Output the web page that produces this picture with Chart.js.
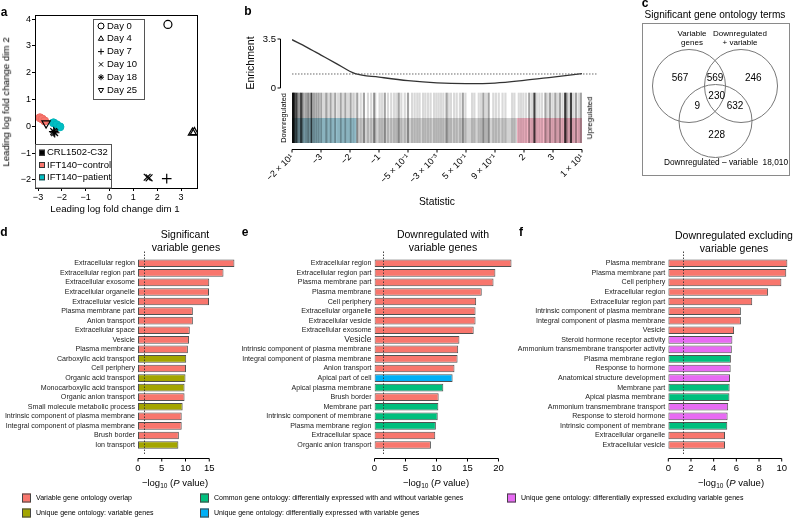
<!DOCTYPE html>
<html>
<head>
<meta charset="utf-8">
<script src="https://cdn.jsdelivr.net/npm/chart.js@4.4.1/dist/chart.umd.min.js"></script>
<style>
body { margin: 0; background: #fff; }
#fig { position: relative; width: 800px; height: 519px; overflow: hidden; background: #fff;
       font-family: 'Liberation Sans', Arial, sans-serif; color: #000; }
#fig canvas { position: absolute; }
.t { position: absolute; white-space: nowrap; line-height: 1; transform: translate(-50%, -50%); }
.r { transform: translate(-50%, -50%) rotate(-90deg); }
.L { font-weight: bold; font-size: 12px; }
.ttl { font-size: 10.5px; }
.ax { font-size: 9.5px; }
.ax sub { font-size: 6.5px; vertical-align: -2px; line-height: 0; }
.lg { position: absolute; font-size: 7px; white-space: nowrap; line-height: 1; transform: translateY(-50%); }
.lg span { display: inline-block; width: 7px; height: 7px; border: 1px solid #444; vertical-align: middle; margin-right: 5px; }
</style>
</head>
<body>
<div id="fig">
  <canvas id="ca" width="200" height="215" style="left:0;top:0"></canvas>
  <canvas id="cb" width="405" height="215" style="left:195px;top:0"></canvas>
  <canvas id="cc" width="148" height="153" style="left:642px;top:23px"></canvas>
  <canvas id="cd" width="246" height="270" style="left:0;top:225px"></canvas>
  <canvas id="ce" width="280" height="270" style="left:240px;top:225px"></canvas>
  <canvas id="cf" width="285" height="270" style="left:515px;top:225px"></canvas>

  <div class="t L" style="left:4px;top:12px">a</div>
  <div class="t L" style="left:248px;top:11px">b</div>
  <div class="t L" style="left:645px;top:3px">c</div>
  <div class="t L" style="left:4px;top:232px">d</div>
  <div class="t L" style="left:245px;top:232px">e</div>
  <div class="t L" style="left:521px;top:232px">f</div>

  <div class="t" style="left:115px;top:209px;font-size:9.7px">Leading log fold change dim 1</div>
  <div class="t r" style="left:6px;top:102px;font-size:9.7px">Leading log fold change dim 2</div>

  <div class="t r" style="left:250px;top:63px;font-size:10.5px">Enrichment</div>
  <div class="t" style="left:437px;top:202px;font-size:10.3px">Statistic</div>
  <div class="t r" style="left:283.5px;top:118px;font-size:7.4px">Downregulated</div>
  <div class="t r" style="left:590px;top:118px;font-size:7.8px">Upregulated</div>

  <div class="t" style="left:715px;top:15px;font-size:10.1px">Significant gene ontology terms</div>

  <div class="t ttl" style="left:185px;top:234px">Significant</div>
  <div class="t ttl" style="left:186px;top:247px">variable genes</div>
  <div class="t ttl" style="left:443px;top:234px">Downregulated with</div>
  <div class="t ttl" style="left:443px;top:247px">variable genes</div>
  <div class="t ttl" style="left:734px;top:235px">Downregulated excluding</div>
  <div class="t ttl" style="left:734px;top:248px">variable genes</div>

  <div class="t ax" style="left:175px;top:483px">&minus;log<sub>10</sub> (<i>P</i> value)</div>
  <div class="t ax" style="left:436px;top:483px">&minus;log<sub>10</sub> (<i>P</i> value)</div>
  <div class="t ax" style="left:731px;top:483px">&minus;log<sub>10</sub> (<i>P</i> value)</div>
</div>

<script>
// ---- a: MDS plot ----
var dayNames = ['Day 0', 'Day 4', 'Day 7', 'Day 10', 'Day 18', 'Day 25'];
var dayStyles = ['circle', 'triangle', 'cross', 'crossRot', 'star', 'triangle'];
var dayRotation = [0, 0, 0, 0, 0, 180];
var crlDay = [0, 1, 1, 2, 3, 3, 4, 4, 5];   // index in dayNames
var crlX = [2.45, 3.48, 3.56, 2.4, 1.58, 1.66, -2.34, -2.3, -2.66];
var crlY = [3.8, -0.24, -0.22, -1.95, -1.9, -1.92, -0.2, -0.24, 0.11];
var controlX = [-2.92, -2.82, -2.72];
var controlY = [0.32, 0.27, 0.2];
var patientX = [-2.35, -2.22, -2.08];
var patientY = [0.13, 0.06, -0.02];
var lineNames = ['CRL1502-C32', 'IFT140\u2212control', 'IFT140\u2212patient'];
var lineColors = ['#000000', '#F8766D', '#00BFC4'];

// ---- b: barcode plot ----
var statLabels = ['\u22122 \u00d7 10\u00b9', '\u22123', '\u22122', '\u22121', '\u22125 \u00d7 10\u207b\u00b9',
  '\u22123 \u00d7 10\u207b\u00b3', '5 \u00d7 10\u207b\u00b9', '9 \u00d7 10\u207b\u00b9', '2', '3', '1 \u00d7 10\u00b9'];
var enrichX = [0, 5, 10, 15, 21.8, 30, 40, 50, 60, 70, 80, 90, 100];
var enrichY = [3.45, 2.92, 2.35, 1.78, 1.02, 0.78, 0.52, 0.36, 0.31, 0.35, 0.54, 0.78, 1.02];
var enrichRef = 1;
var downRange = [0, 22.2];
var upRange = [77.6, 100];
var barcodeDark = [0, 0.3, 0.7, 1.5, 3.2, 6.7, 83.6, 94.2, 96.2];
var barcodeMid = [0.9, 2.1, 2.7, 3.8, 4.6, 5.3, 5.8, 7.6, 8.4, 9.2, 10.1, 11.8, 13.3, 14.9, 16.8, 18.4,
  20.2, 22.5, 24.8, 28.3, 32.0, 36.8, 40.0, 53.3, 58.9, 66.0, 67.8, 81.8, 87.4, 89.0, 90.8, 92.4, 94.7, 97.9, 99.6];
var barcodeLight = [11.0, 12.4, 14.1, 15.9, 17.6, 19.3, 21.0, 21.6, 23.7, 26.2, 27.3, 28.7, 30.2, 31.0, 33.1,
  34.2, 35.2, 36.0, 37.7, 38.9, 41.4, 42.3, 43.2, 44.0, 45.2, 46.0, 46.9, 47.8, 49.0, 49.8, 50.6, 51.4, 52.2,
  54.0, 54.8, 55.9, 56.8, 57.9, 59.8, 62.1, 62.9, 64.4, 65.2, 66.9, 69.4, 70.3, 71.3, 72.6, 73.6, 75.9, 76.7,
  78.2, 79.0, 79.8, 80.7, 82.8, 84.4, 85.3, 86.2, 88.2, 89.9, 91.6, 93.3, 95.4, 97.0, 98.8];

// ---- c: Venn ----
var vennCircleX = [47, 99, 73.5];
var vennCircleY = [63, 63, 98];
var vennCounts = [567, 569, 246, 230, 9, 632, 228];
var vennCountX = [38, 73, 111.3, 74.7, 55.3, 93, 74.7];
var vennCountY = [55.3, 55.3, 55.3, 73.7, 83, 83, 112];
var vennOutside = '18,010';

// ---- d/e/f: GO terms ----
var groupNames = {
  o: 'Variable gene ontology overlap',
  u: 'Unique gene ontology: variable genes',
  c: 'Common gene ontology: differentially expressed with and without variable genes',
  w: 'Unique gene ontology: differentially expressed with variable genes',
  x: 'Unique gene ontology: differentially expressed excluding variable genes'
};
var groupColors = { o: '#F8766D', u: '#A3A500', c: '#00BF7D', w: '#00B0F6', x: '#E76BF3' };
var cutoff = 1.3;

var dLabels = ['Extracellular region', 'Extracellular region part', 'Extracellular exosome', 'Extracellular organelle',
  'Extracellular vesicle', 'Plasma membrane part', 'Anion transport', 'Extracellular space', 'Vesicle',
  'Plasma membrane', 'Carboxylic acid transport', 'Cell periphery', 'Organic acid transport',
  'Monocarboxylic acid transport', 'Organic anion transport', 'Small molecule metabolic process',
  'Intrinsic component of plasma membrane', 'Integral component of plasma membrane', 'Brush border', 'Ion transport'];
var dValues = [20.3, 18.0, 15.0, 14.95, 14.95, 11.55, 11.55, 10.9, 10.75, 10.5, 10.15, 10.1, 10.0, 9.8, 9.8, 9.4, 9.2, 9.2, 8.6, 8.5];
var dGroups = ['o', 'o', 'o', 'o', 'o', 'o', 'o', 'o', 'o', 'o', 'u', 'o', 'u', 'u', 'o', 'u', 'o', 'o', 'o', 'u'];

var eLabels = ['Extracellular region', 'Extracellular region part', 'Plasma membrane part', 'Plasma membrane',
  'Cell periphery', 'Extracellular organelle', 'Extracellular vesicle', 'Extracellular exosome', 'Vesicle',
  'Intrinsic component of plasma membrane', 'Integral component of plasma membrane', 'Anion transport',
  'Apical part of cell', 'Apical plasma membrane', 'Brush border', 'Membrane part',
  'Intrinsic component of membrane', 'Plasma membrane region', 'Extracellular space', 'Organic anion transport'];
var eValues = [22.1, 19.5, 19.2, 17.3, 16.4, 16.3, 16.3, 16.0, 13.7, 13.5, 13.4, 12.9, 12.6, 11.1, 10.35, 10.3, 10.2, 9.9, 9.8, 9.1];
var eGroups = ['o', 'o', 'o', 'o', 'o', 'o', 'o', 'o', 'o', 'o', 'o', 'o', 'w', 'c', 'o', 'c', 'c', 'c', 'o', 'o'];

var fLabels = ['Plasma membrane', 'Plasma membrane part', 'Cell periphery', 'Extracellular region',
  'Extracellular region part', 'Intrinsic component of plasma membrane', 'Integral component of plasma membrane',
  'Vesicle', 'Steroid hormone receptor activity', 'Ammonium transmembrane transporter activity',
  'Plasma membrane region', 'Response to hormone', 'Anatomical structure development', 'Membrane part',
  'Apical plasma membrane', 'Ammonium transmembrane transport', 'Response to steroid hormone',
  'Intrinsic component of membrane', 'Extracellular organelle', 'Extracellular vesicle'];
var fValues = [10.5, 10.4, 9.97, 8.8, 7.4, 6.4, 6.4, 5.8, 5.65, 5.6, 5.52, 5.5, 5.44, 5.41, 5.39, 5.28, 5.23, 5.2, 5.0, 5.0];
var fGroups = ['o', 'o', 'o', 'o', 'o', 'o', 'o', 'o', 'x', 'x', 'c', 'x', 'x', 'c', 'c', 'x', 'x', 'c', 'o', 'o'];

var legendRows = [['o', 'c', 'x'], ['u', 'w']];

var FONT = "'Liberation Sans', Arial, sans-serif";
Chart.defaults.font.family = FONT;
Chart.defaults.color = '#000';
Chart.defaults.animation = false;
Chart.defaults.responsive = false;
Chart.defaults.events = [];
Chart.defaults.layout.autoPadding = false;
Chart.defaults.plugins.legend.display = false;
Chart.defaults.plugins.tooltip.enabled = false;

function minus(v) { return v < 0 ? '\u2212' + (-v) : String(v); }

function marker(ctx, style, rot, x, y, r) {
  ctx.fillStyle = 'rgba(0,0,0,0)';
  ctx.strokeStyle = '#000';
  ctx.lineWidth = 1;
  Chart.helpers.drawPoint(ctx, { pointStyle: style, rotation: rot, radius: r, borderWidth: 1 }, x, y);
}

// cadre + légendes du panneau a
var aLegend = {
  id: 'aLegend',
  afterDraw: function(chart) {
    var ctx = chart.ctx, a = chart.chartArea;
    ctx.save();
    ctx.strokeStyle = '#000';
    ctx.lineWidth = 1;
    ctx.strokeRect(Math.round(a.left) + 0.5, Math.round(a.top) + 0.5, Math.round(a.right - a.left), Math.round(a.bottom - a.top));
    ctx.fillStyle = '#fff';
    ctx.fillRect(93.5, 19.5, 51, 80);
    ctx.fillRect(35.5, 144.5, 76, 43.5);
    ctx.strokeStyle = '#555';
    ctx.strokeRect(93.5, 19.5, 51, 80);
    ctx.strokeRect(35.5, 144.5, 76, 43.5);
    ctx.font = '9.5px ' + FONT;
    ctx.textBaseline = 'middle';
    dayNames.forEach(function(n, i) {
      var y = 26 + i * 12.8;
      marker(ctx, dayStyles[i], dayRotation[i], 101, y, 3);
      ctx.fillStyle = '#000';
      ctx.fillText(n, 107, y);
    });
    lineNames.forEach(function(n, i) {
      var y = 152.7 + i * 12.3;
      ctx.fillStyle = lineColors[i];
      ctx.fillRect(39, y - 3, 6, 6);
      ctx.strokeStyle = '#333';
      ctx.strokeRect(39.5, y - 2.5, 5, 5);
      ctx.fillStyle = '#000';
      ctx.fillText(n, 47, y);
    });
    ctx.restore();
  }
};

new Chart(document.getElementById('ca'), {
  type: 'scatter',
  data: {
    datasets: [
      {
        data: crlX.map(function(x, i) { return { x: x, y: crlY[i] }; }),
        pointStyle: crlDay.map(function(d) { return dayStyles[d]; }),
        rotation: crlDay.map(function(d) { return dayRotation[d]; }),
        pointRadius: crlDay.map(function(d) { return d === 0 ? 4 : 4.8; }),
        borderColor: '#000', backgroundColor: 'rgba(0,0,0,0)', borderWidth: 1.2
      },
      {
        data: controlX.map(function(x, i) { return { x: x, y: controlY[i] }; }),
        pointStyle: 'circle', pointRadius: 4, borderColor: '#ee6a62', backgroundColor: lineColors[1], borderWidth: 1
      },
      {
        data: patientX.map(function(x, i) { return { x: x, y: patientY[i] }; }),
        pointStyle: 'circle', pointRadius: 4, borderColor: '#00b3b8', backgroundColor: lineColors[2], borderWidth: 1
      }
    ]
  },
  options: {
    layout: { padding: { top: 15, right: 3 } },
    scales: {
      x: {
        type: 'linear', min: -3.126, max: 3.67,
        grid: { drawOnChartArea: false, tickLength: 3, color: '#000' }, border: { display: false },
        ticks: { stepSize: 1, includeBounds: false, padding: 1, font: { size: 9 }, callback: minus },
        afterFit: function(s) { s.height = 27; }
      },
      y: {
        type: 'linear', min: -2.3, max: 4.15,
        grid: { drawOnChartArea: false, tickLength: 3, color: '#000' }, border: { display: false },
        ticks: { stepSize: 1, includeBounds: false, padding: 1, font: { size: 9 }, callback: minus },
        afterFit: function(s) { s.width = 35; }
      }
    }
  },
  plugins: [aLegend]
});

// fond du code-barres + axes style R
var barcodeDeco = {
  id: 'barcodeDeco',
  beforeDatasetsDraw: function(chart) {
    var ctx = chart.ctx, x = chart.scales.x, yb = chart.scales.yB;
    var mid = yb.getPixelForValue(0.5), bot = yb.getPixelForValue(0);
    ctx.save();
    ctx.fillStyle = '#d2d2d2';
    ctx.fillRect(x.getPixelForValue(0), mid, x.getPixelForValue(100) - x.getPixelForValue(0), bot - mid);
    ctx.fillStyle = '#a3d3e1';
    ctx.fillRect(x.getPixelForValue(downRange[0]), mid, x.getPixelForValue(downRange[1]) - x.getPixelForValue(downRange[0]), bot - mid);
    ctx.fillStyle = '#f6b6c6';
    ctx.fillRect(x.getPixelForValue(upRange[0]), mid, x.getPixelForValue(upRange[1]) - x.getPixelForValue(upRange[0]), bot - mid);
    ctx.restore();
  },
  afterDraw: function(chart) {
    var ctx = chart.ctx, a = chart.chartArea, x = chart.scales.x, ye = chart.scales.yE;
    ctx.save();
    ctx.strokeStyle = '#000';
    ctx.lineWidth = 1;
    ctx.beginPath();
    var yAx = Math.round(a.bottom + 6) + 0.5;
    ctx.moveTo(x.getPixelForValue(0), yAx);
    ctx.lineTo(x.getPixelForValue(100), yAx);
    statLabels.forEach(function(l, i) {
      var px = x.getPixelForValue(i * 10);
      ctx.moveTo(px, yAx);
      ctx.lineTo(px, yAx + 3);
    });
    var xAx = Math.round(a.left - 12) + 0.5;
    ctx.moveTo(xAx, ye.getPixelForValue(0));
    ctx.lineTo(xAx, ye.getPixelForValue(3.5));
    [0, 3.5].forEach(function(v) {
      var py = ye.getPixelForValue(v);
      ctx.moveTo(xAx, py);
      ctx.lineTo(xAx - 3, py);
    });
    ctx.stroke();
    ctx.setLineDash([1.5, 1.5]);
    ctx.strokeStyle = '#444';
    ctx.lineWidth = 0.8;
    ctx.beginPath();
    var yr = ye.getPixelForValue(enrichRef);
    ctx.moveTo(x.getPixelForValue(0), yr);
    ctx.lineTo(chart.width - 2, yr);
    ctx.stroke();
    ctx.restore();
  }
};

function barcodeSet(pos, color) {
  return {
    type: 'bar', yAxisID: 'yB', xAxisID: 'x', grouped: false,
    data: pos.map(function(p) { return { x: p, y: 1 }; }),
    backgroundColor: color, borderWidth: 0, barThickness: 1.5
  };
}

new Chart(document.getElementById('cb'), {
  type: 'bar',
  data: {
    datasets: [
      {
        type: 'line', yAxisID: 'yE', xAxisID: 'x',
        data: enrichX.map(function(x, i) { return { x: x, y: enrichY[i] }; }),
        borderColor: '#333', borderWidth: 1.3, pointRadius: 0, cubicInterpolationMode: 'monotone', fill: false
      },
      barcodeSet(barcodeDark, 'rgba(0,0,0,0.75)'),
      barcodeSet(barcodeMid, 'rgba(0,0,0,0.36)'),
      barcodeSet(barcodeLight, 'rgba(0,0,0,0.15)')
    ]
  },
  options: {
    layout: { padding: { top: 39, right: 18 } },
    scales: {
      x: {
        type: 'linear', min: 0, max: 100, offset: false,
        grid: { display: false, drawTicks: false }, border: { display: false },
        afterBuildTicks: function(s) { s.ticks = statLabels.map(function(l, i) { return { value: i * 10 }; }); },
        ticks: {
          minRotation: 45, maxRotation: 45, padding: 9, font: { size: 9 },
          callback: function(v, i) { return statLabels[i]; }
        },
        afterFit: function(s) { s.height = 72; }
      },
      yE: {
        type: 'linear', position: 'left', min: -3.93, max: 3.5,
        grid: { display: false, drawTicks: false }, border: { display: false },
        afterBuildTicks: function(s) { s.ticks = [{ value: 0 }, { value: 3.5 }]; },
        ticks: { padding: 16, font: { size: 9.5 }, callback: function(v) { return String(v); } },
        afterFit: function(s) { s.width = 97; }
      },
      yB: { type: 'linear', display: false, min: 0, max: 2.08 }
    }
  },
  plugins: [barcodeDeco]
});

// ---- c ----
var vennText = {
  id: 'vennText',
  afterDraw: function(chart) {
    var ctx = chart.ctx, xs = chart.scales.x, ys = chart.scales.y;
    ctx.save();
    ctx.strokeStyle = '#8a8a8a';
    ctx.lineWidth = 1;
    ctx.strokeRect(0.5, 0.5, chart.width - 1, chart.height - 1);
    ctx.fillStyle = '#000';
    ctx.textAlign = 'center';
    ctx.textBaseline = 'middle';
    ctx.font = '10px ' + FONT;
    vennCounts.forEach(function(n, i) {
      ctx.fillText(String(n), xs.getPixelForValue(vennCountX[i]), ys.getPixelForValue(vennCountY[i]));
    });
    ctx.font = '8px ' + FONT;
    ctx.fillText('Variable', 50, 11);
    ctx.fillText('genes', 50, 20);
    ctx.fillText('Downregulated', 98, 11);
    ctx.fillText('+ variable', 98, 20);
    ctx.font = '8.3px ' + FONT;
    ctx.textAlign = 'right';
    ctx.fillText('Downregulated \u2013 variable  ' + vennOutside, 146, 140);
    ctx.restore();
  }
};

new Chart(document.getElementById('cc'), {
  type: 'bubble',
  data: {
    datasets: [{
      data: vennCircleX.map(function(x, i) { return { x: x, y: vennCircleY[i], r: 36.5 }; }),
      backgroundColor: 'rgba(0,0,0,0)', borderColor: '#777', borderWidth: 1, clip: false
    }]
  },
  options: {
    layout: { padding: 0, autoPadding: false },
    scales: {
      x: { display: false, min: 0, max: 148 },
      y: { display: false, min: 0, max: 153, reverse: true }
    }
  },
  plugins: [vennText]
});

// ---- d/e/f ----
var rAxis = {
  id: 'rAxis',
  afterDraw: function(chart, args, o) {
    var ctx = chart.ctx, a = chart.chartArea, x = chart.scales.x;
    var y0 = Math.round(a.bottom + 8) + 0.5;
    ctx.save();
    ctx.strokeStyle = '#000';
    ctx.lineWidth = 1;
    ctx.beginPath();
    ctx.moveTo(x.getPixelForValue(0), y0);
    ctx.lineTo(x.getPixelForValue(o.to), y0);
    for (var v = 0; v <= o.to; v += o.step) {
      var px = x.getPixelForValue(v);
      ctx.moveTo(px, y0);
      ctx.lineTo(px, y0 + 3);
    }
    ctx.stroke();
    ctx.setLineDash([1.5, 1.5]);
    ctx.strokeStyle = '#333';
    ctx.lineWidth = 0.9;
    ctx.beginPath();
    var cx = Math.round(x.getPixelForValue(o.cutoff)) + 0.5;
    ctx.moveTo(cx, a.top - 7);
    ctx.lineTo(cx, y0 - 3);
    ctx.stroke();
    ctx.restore();
  }
};

function barPanel(id, labels, values, groups, cfg) {
  return new Chart(document.getElementById(id), {
    type: 'bar',
    data: {
      labels: labels,
      datasets: [{
        data: values,
        backgroundColor: groups.map(function(g) { return groupColors[g]; }),
        borderColor: '#505050', borderWidth: 1, borderSkipped: false,
        barPercentage: 0.8, categoryPercentage: 1
      }]
    },
    options: {
      indexAxis: 'y',
      layout: { padding: { top: 33.5, right: 0 } },
      scales: {
        y: {
          grid: { display: false, drawTicks: false }, border: { display: false },
          ticks: {
            autoSkip: false, padding: 3, color: '#222',
            font: function(c) { return { size: c.index === cfg.big ? 8.6 : 7.1 }; }
          },
          afterFit: function(s) { s.width = cfg.yw; }
        },
        x: {
          min: 0, max: cfg.max,
          grid: { display: false, drawTicks: false }, border: { display: false },
          ticks: {
            stepSize: cfg.step, includeBounds: false, padding: 13, font: { size: 9.5 },
            callback: function(v) { return v <= cfg.axisMax ? String(v) : ''; }
          },
          afterFit: function(s) { s.height = 45.2; }
        }
      },
      plugins: { rAxis: { to: cfg.axisMax, step: cfg.step, cutoff: cutoff } }
    },
    plugins: [rAxis]
  });
}

barPanel('cd', dLabels, dValues, dGroups, { yw: 138, max: 22.2, axisMax: 15, step: 5, big: -1 });
barPanel('ce', eLabels, eValues, eGroups, { yw: 134.5, max: 23.47, axisMax: 20, step: 5, big: 8 });
barPanel('cf', fLabels, fValues, fGroups, { yw: 153.3, max: 10.54, axisMax: 10, step: 2, big: -1 });

// légende commune
var legX = [22, 200, 507];
var legY = [498, 513];
var fig = document.getElementById('fig');
legendRows.forEach(function(row, r) {
  row.forEach(function(g, c) {
    var d = document.createElement('div');
    d.className = 'lg';
    d.style.left = legX[c] + 'px';
    d.style.top = legY[r] + 'px';
    d.innerHTML = '<span style="background:' + groupColors[g] + '"></span>' + groupNames[g];
    fig.appendChild(d);
  });
});
</script>
</body>
</html>
